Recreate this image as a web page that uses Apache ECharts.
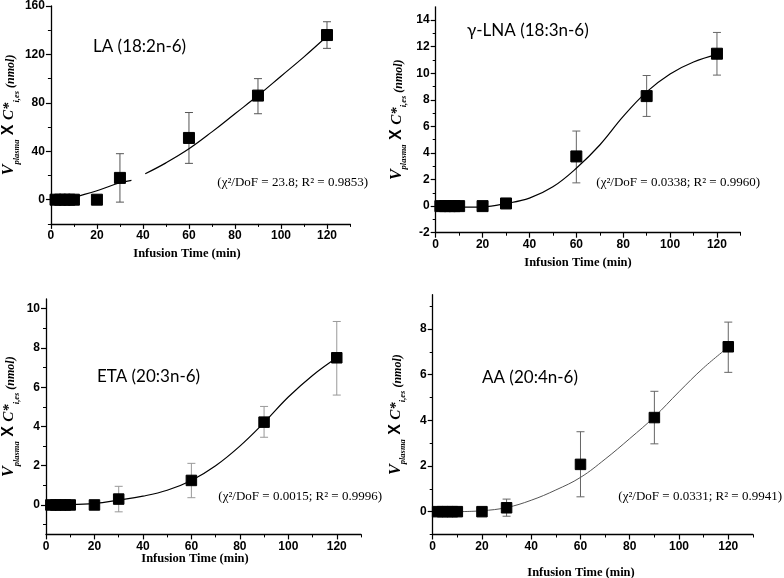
<!DOCTYPE html>
<html>
<head>
<meta charset="utf-8">
<script src="https://cdn.jsdelivr.net/npm/echarts@6/dist/echarts.min.js"></script>
<style>
  html, body { margin: 0; background: #fff; }
  #main { width: 784px; height: 578px; }
</style>
</head>
<body>
<div id="main"></div>
<script>
// sampling times (min) of the measured points, shared by all four panels
const sampleTimes = [2, 4, 6, 8, 10, 20, 30, 60, 90, 120];
const errTimes = [30, 60, 90, 120];

const xMajor = [0, 20, 40, 60, 80, 100, 120];
const xMinor = [10, 30, 50, 70, 90, 110, 130];

// LA (18:2n-6)
const laValues = [0, 0, 0, 0, 0, 0, 18, 51, 86, 136];
const laErrLow = [-2, 30, 71, 125];
const laErrHigh = [38, 72, 100, 147];
const laFitTimes = [10, 12, 20, 30, 35, 38, 41, 50, 60, 70, 80, 90, 100, 110, 120];
const laFitValues = [2, 3, 7.4, 14, 16, null, 21.4, 30.4, 42, 56, 71, 86, 102, 118, 135];
const laYMajor = [0, 40, 80, 120, 160];
const laYMinor = [-20, 20, 60, 100, 140];

// γ-LNA (18:3n-6)
const lnaValues = [0, 0, 0, 0, 0, 0, 0.2, 3.74, 8.28, 11.47];
const lnaErrLow = [0.1, 1.75, 6.75, 9.86];
const lnaErrHigh = [0.3, 5.65, 9.83, 13.07];
const lnaFitTimes = [10, 20, 30, 40, 50, 60, 70, 80, 90, 100, 110, 120];
const lnaFitValues = [-0.08, -0.05, 0.2, 0.6, 1.45, 2.85, 4.6, 6.75, 8.6, 9.95, 10.85, 11.4];
const lnaYMajor = [-2, 0, 2, 4, 6, 8, 10, 12, 14];
const lnaYMinor = [-1, 1, 3, 5, 7, 9, 11, 13];

// ETA (20:3n-6)
const etaValues = [0, 0, 0, 0, 0, 0, 0.3, 1.25, 4.22, 7.5];
const etaErrLow = [-0.35, 0.37, 3.45, 5.6];
const etaErrHigh = [0.95, 2.12, 5.02, 9.35];
const etaFitTimes = [10, 20, 30, 40, 50, 60, 70, 80, 90, 100, 110, 120];
const etaFitValues = [0.02, 0.08, 0.25, 0.45, 0.75, 1.25, 2.0, 3.0, 4.2, 5.5, 6.6, 7.5];
const etaYMajor = [0, 2, 4, 6, 8, 10];
const etaYMinor = [-1, 1, 3, 5, 7, 9];

// AA (20:4n-6)
const aaValues = [0, 0, 0, 0, 0, 0, 0.17, 2.07, 4.12, 7.22];
const aaErrLow = [-0.2, 0.65, 2.97, 6.1];
const aaErrHigh = [0.55, 3.5, 5.27, 8.3];
const aaFitTimes = [10, 20, 30, 40, 50, 60, 70, 80, 90, 100, 110, 120];
const aaFitValues = [0, 0.04, 0.18, 0.5, 0.95, 1.5, 2.3, 3.2, 4.15, 5.25, 6.3, 7.2];
const aaYMajor = [0, 2, 4, 6, 8];
const aaYMinor = [-1, 1, 3, 5, 7, 9];

const panels = [
  {
    box: [47.7, 6, 302.3, 217.9], yMin: -20, yMax: 160, yMajor: laYMajor, yMinor: laYMinor,
    values: laValues, errLow: laErrLow, errHigh: laErrHigh, fitX: laFitTimes, fitY: laFitValues,
    label: 'LA (18:2n-6)', labelPos: [93, 49],
    stats: '(χ²/DoF = 23.8; R² = 0.9853)', statsPos: [368, 183],
    xTitlePos: [187, 254], nameGap: 31,
    sym: 11, errColor: '#555', fitColor: '#000', fitWidth: 1.2
  },
  {
    box: [435.7, 6.8, 304.7, 225.9], yMin: -2, yMax: 15, yMajor: lnaYMajor, yMinor: lnaYMinor,
    values: lnaValues, errLow: lnaErrLow, errHigh: lnaErrHigh, fitX: lnaFitTimes, fitY: lnaFitValues,
    label: 'γ-LNA (18:3n-6)', labelPos: [467, 33],
    stats: '(χ²/DoF = 0.0338; R² = 0.9960)', statsPos: [760, 183],
    xTitlePos: [578, 263], nameGap: 31,
    sym: 11, errColor: '#666', fitColor: '#000', fitWidth: 1.2
  },
  {
    box: [45.7, 298.9, 315.3, 235.5], yMin: -1.5, yMax: 10.5, yMajor: etaYMajor, yMinor: etaYMinor,
    values: etaValues, errLow: etaErrLow, errHigh: etaErrHigh, fitX: etaFitTimes, fitY: etaFitValues,
    label: 'ETA (20:3n-6)', labelPos: [97, 379],
    stats: '(χ²/DoF = 0.0015; R² = 0.9996)', statsPos: [382, 497],
    xTitlePos: [195, 559], nameGap: 29,
    sym: 10.5, errColor: '#999', fitColor: '#000', fitWidth: 1.2
  },
  {
    box: [432.7, 294.7, 320.2, 239.8], yMin: -1, yMax: 9.5, yMajor: aaYMajor, yMinor: aaYMinor,
    values: aaValues, errLow: aaErrLow, errHigh: aaErrHigh, fitX: aaFitTimes, fitY: aaFitValues,
    label: 'AA (20:4n-6)', labelPos: [482, 380],
    stats: '(χ²/DoF = 0.0331; R² = 0.9941)', statsPos: [782, 497],
    xTitlePos: [581, 573], nameGap: 29,
    sym: 10.5, errColor: '#666', fitColor: '#555', fitWidth: 1
  }
];

const yTitle = '{v|V}{sub|plasma}{x| X }{c|C*}{sub|i,es}{n| (nmol)}';
const yTitleRich = {
  v: { fontFamily: 'Liberation Serif', fontStyle: 'italic', fontWeight: 'bold', fontSize: 16, color: '#000', lineHeight: 18, verticalAlign: 'bottom' },
  c: { fontFamily: 'Liberation Serif', fontStyle: 'italic', fontWeight: 'bold', fontSize: 15, color: '#000', lineHeight: 18, verticalAlign: 'bottom' },
  sub: { fontFamily: 'Liberation Serif', fontStyle: 'italic', fontWeight: 'bold', fontSize: 8.5, color: '#000', verticalAlign: 'bottom', padding: [0, 0, -4, 0] },
  x: { fontFamily: 'Liberation Sans', fontWeight: 'bold', fontSize: 16, color: '#000', lineHeight: 18, verticalAlign: 'bottom' },
  n: { fontFamily: 'Liberation Serif', fontStyle: 'italic', fontWeight: 'bold', fontSize: 12, color: '#000', lineHeight: 18, verticalAlign: 'bottom' }
};

const tickLabel = { fontFamily: 'Liberation Sans', fontWeight: 'bold', fontSize: 12, color: '#000' };

const grids = [], xAxes = [], yAxes = [], series = [], graphics = [];

panels.forEach((p, i) => {
  grids.push({ left: p.box[0], top: p.box[1], width: p.box[2], height: p.box[3] });

  const xi = xAxes.length;
  xAxes.push({
    type: 'value', gridIndex: i, position: 'bottom', min: 0, max: 130,
    axisLine: { show: true, onZero: false, lineStyle: { color: '#000', width: 1.3 } },
    axisTick: { show: true, length: 5, customValues: xMajor, lineStyle: { color: '#000', width: 1.2 } },
    axisLabel: Object.assign({ customValues: xMajor, margin: 6 }, tickLabel),
    splitLine: { show: false }
  });
  xAxes.push({
    type: 'value', gridIndex: i, position: 'bottom', min: 0, max: 130,
    axisLine: { show: false, onZero: false },
    axisTick: { show: true, length: 3, customValues: xMinor, lineStyle: { color: '#000' } },
    axisLabel: { show: false },
    splitLine: { show: false }
  });

  const yi = yAxes.length;
  yAxes.push({
    type: 'value', gridIndex: i, position: 'left', min: p.yMin, max: p.yMax,
    name: yTitle, nameLocation: 'middle', nameGap: p.nameGap, nameRotate: 90,
    nameTextStyle: { rich: yTitleRich },
    axisLine: { show: true, onZero: false, lineStyle: { color: '#000', width: 1.3 } },
    axisTick: { show: true, length: 5, customValues: p.yMajor, lineStyle: { color: '#000', width: 1.2 } },
    axisLabel: Object.assign({ customValues: p.yMajor, margin: 6 }, tickLabel),
    splitLine: { show: false }
  });
  yAxes.push({
    type: 'value', gridIndex: i, position: 'left', min: p.yMin, max: p.yMax,
    axisLine: { show: false, onZero: false },
    axisTick: { show: true, length: 3, customValues: p.yMinor, lineStyle: { color: '#000' } },
    axisLabel: { show: false },
    splitLine: { show: false }
  });

  // error bars
  series.push({
    type: 'custom', xAxisIndex: xi, yAxisIndex: yi, silent: true, z: 1,
    data: errTimes.map((t, k) => [t, p.errLow[k], p.errHigh[k]]),
    renderItem: (params, api) => {
      const x = api.value(0);
      const lo = api.coord([x, api.value(1)]);
      const hi = api.coord([x, api.value(2)]);
      const w = 4;
      const style = { stroke: p.errColor, lineWidth: 1 };
      return {
        type: 'group',
        children: [
          { type: 'line', shape: { x1: lo[0], y1: lo[1], x2: hi[0], y2: hi[1] }, style },
          { type: 'line', shape: { x1: lo[0] - w, y1: lo[1], x2: lo[0] + w, y2: lo[1] }, style },
          { type: 'line', shape: { x1: hi[0] - w, y1: hi[1], x2: hi[0] + w, y2: hi[1] }, style }
        ]
      };
    }
  });

  // fitted curve
  series.push({
    type: 'line', xAxisIndex: xi, yAxisIndex: yi, z: 2, silent: true,
    data: p.fitX.map((t, k) => [t, p.fitY[k] === null ? '-' : p.fitY[k]]),
    smooth: 0.4, showSymbol: false, connectNulls: false,
    lineStyle: { color: p.fitColor, width: p.fitWidth }
  });

  // measured points
  series.push({
    type: 'scatter', xAxisIndex: xi, yAxisIndex: yi, z: 3, silent: true,
    data: sampleTimes.map((t, k) => [t, p.values[k]]),
    symbol: 'rect', symbolSize: p.sym,
    itemStyle: { color: '#000', opacity: 1, borderColor: '#000', borderWidth: 1 }
  });

  graphics.push({
    type: 'text', left: p.labelPos[0], top: p.labelPos[1] - 11,
    style: { text: p.label, font: '17px Lato', fill: '#000' }
  });
  graphics.push({
    type: 'text', x: p.statsPos[0], y: p.statsPos[1],
    style: { text: p.stats, font: '13px "Liberation Serif"', fill: '#000', align: 'right', verticalAlign: 'middle' }
  });
  graphics.push({
    type: 'text', x: p.xTitlePos[0], y: p.xTitlePos[1],
    style: { text: 'Infusion Time (min)', font: 'bold 12.5px "Liberation Serif"', fill: '#000', align: 'center', verticalAlign: 'middle' }
  });
});

const chart = echarts.init(document.getElementById('main'));
chart.setOption({
  animation: false,
  backgroundColor: '#fff',
  grid: grids,
  xAxis: xAxes,
  yAxis: yAxes,
  series: series,
  graphic: graphics
});
</script>
</body>
</html>
